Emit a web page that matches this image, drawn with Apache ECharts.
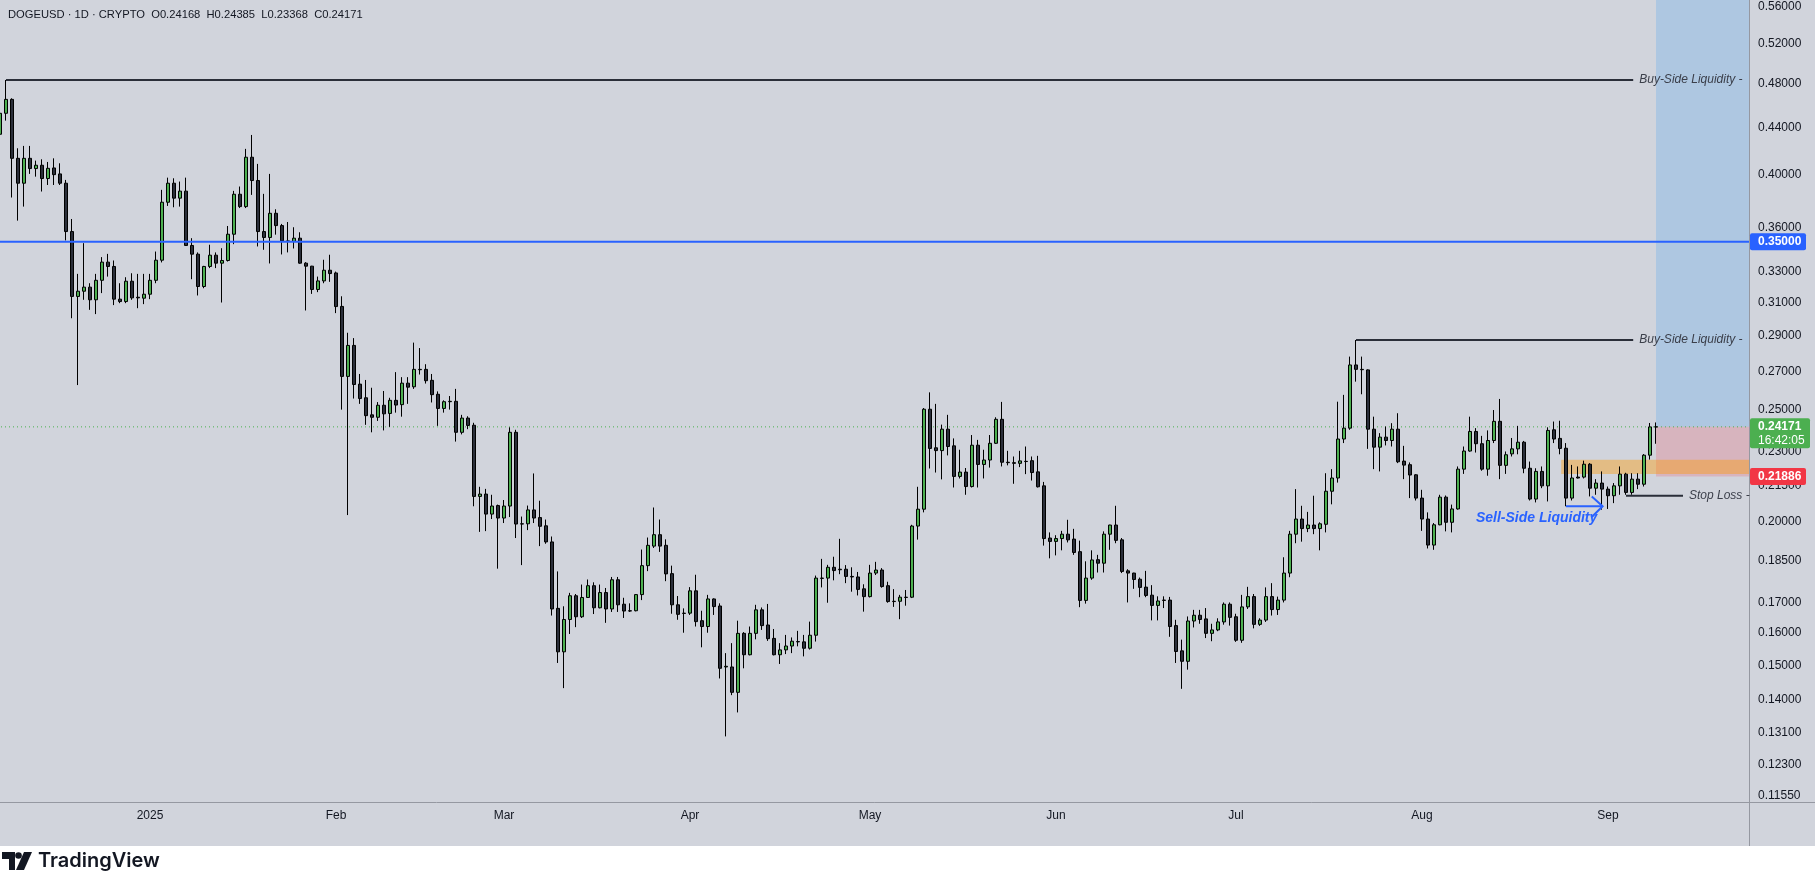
<!DOCTYPE html>
<html>
<head>
<meta charset="utf-8">
<title>DOGEUSD 1D</title>
<style>
  html, body { margin: 0; padding: 0; background: #ffffff; }
  #chart { width: 1815px; height: 890px; }
</style>
<script src="https://cdn.jsdelivr.net/npm/echarts@6.0.0/dist/echarts.min.js"></script>
</head>
<body>
<div id="chart"></div>
<script>
// ---------------- data (prices) ----------------
// each row: [open, high, low, close]
const dec2024 = [ // Dec 7 .. Dec 31, 2024
  [0.4341,0.4558,0.4321,0.4527],[0.4527,0.4839,0.4461,0.4655],[0.4655,0.4665,0.3825,0.4137],
  [0.4137,0.4221,0.3652,0.3936],[0.3936,0.4241,0.3756,0.4137],[0.4137,0.4241,0.4010,0.4053],
  [0.4053,0.4118,0.3988,0.4080],[0.4080,0.4129,0.3871,0.3973],[0.3973,0.4107,0.3922,0.4055],
  [0.4058,0.4137,0.3922,0.4004],[0.4010,0.4096,0.3922,0.3936],[0.3936,0.3962,0.3510,0.3573],
  [0.3573,0.3664,0.3004,0.3138],[0.3138,0.3283,0.2628,0.3171],[0.3171,0.3491,0.3117,0.3197],
  [0.3197,0.3222,0.3055,0.3117],[0.3117,0.3283,0.3029,0.3241],[0.3241,0.3395,0.3159,0.3361],
  [0.3361,0.3417,0.3265,0.3332],[0.3332,0.3372,0.3084,0.3121],[0.3121,0.3222,0.3096,0.3106],
  [0.3106,0.3261,0.3096,0.3235],[0.3235,0.3287,0.3117,0.3129],[0.3133,0.3283,0.3065,0.3129],
  [0.3127,0.3283,0.3090,0.3152]
];
const jan2025 = [
  [0.3152,0.3283,0.3121,0.3241],[0.3241,0.3433,0.3222,0.3374],[0.3374,0.3884,0.3359,0.3789],
  [0.3789,0.3980,0.3761,0.3936],[0.3936,0.3975,0.3751,0.3820],[0.3820,0.3949,0.3756,0.3874],
  [0.3874,0.3980,0.3473,0.3475],[0.3475,0.3526,0.3248,0.3415],[0.3415,0.3427,0.3144,0.3201],
  [0.3201,0.3336,0.3190,0.3332],[0.3332,0.3480,0.3321,0.3408],[0.3408,0.3427,0.3321,0.3354],
  [0.3354,0.3456,0.3100,0.3372],[0.3372,0.3613,0.3365,0.3554],[0.3554,0.3876,0.3484,0.3850],
  [0.3850,0.3910,0.3745,0.3756],[0.3756,0.4216,0.3745,0.4146],[0.4146,0.4335,0.3845,0.3957],
  [0.3957,0.4091,0.3468,0.3573],[0.3573,0.3853,0.3445,0.3531],[0.3531,0.4010,0.3352,0.3706],
  [0.3706,0.3736,0.3551,0.3616],[0.3616,0.3628,0.3413,0.3507],[0.3507,0.3642,0.3427,0.3503],
  [0.3503,0.3604,0.3454,0.3526],[0.3526,0.3568,0.3350,0.3354],[0.3354,0.3361,0.3051,0.3334],
  [0.3334,0.3336,0.3154,0.3182],[0.3182,0.3265,0.3165,0.3237],[0.3237,0.3377,0.3222,0.3307],
  [0.3307,0.3411,0.3231,0.3285]
];
const feb2025 = [
  [0.3289,0.3298,0.3035,0.3075],[0.3076,0.3139,0.2502,0.2674],[0.2674,0.2918,0.2026,0.2845],
  [0.2845,0.2887,0.2558,0.2631],[0.2633,0.2687,0.2531,0.2558],[0.2562,0.2655,0.2427,0.2472],
  [0.2476,0.2614,0.2391,0.2464],[0.2464,0.2540,0.2446,0.2524],[0.2524,0.2597,0.2400,0.2481],
  [0.2483,0.2562,0.2417,0.2549],[0.2549,0.2697,0.2487,0.2525],[0.2527,0.2670,0.2467,0.2638],
  [0.2638,0.2670,0.2531,0.2617],[0.2619,0.2861,0.2608,0.2712],[0.2712,0.2830,0.2684,0.2710],
  [0.2712,0.2740,0.2636,0.2651],[0.2653,0.2687,0.2538,0.2578],[0.2580,0.2595,0.2422,0.2508],
  [0.2508,0.2549,0.2487,0.2542],[0.2542,0.2571,0.2502,0.2544],[0.2544,0.2608,0.2347,0.2391],
  [0.2391,0.2476,0.2381,0.2460],[0.2460,0.2469,0.2406,0.2424],[0.2425,0.2437,0.2062,0.2103],
  [0.2103,0.2144,0.1959,0.2113],[0.2113,0.2135,0.1962,0.2030],[0.2030,0.2110,0.2010,0.2063],
  [0.2065,0.2069,0.1820,0.2014]
];
const mar2025 = [
  [0.2014,0.2088,0.1994,0.2063],[0.2063,0.2415,0.2018,0.2391],[0.2391,0.2403,0.1935,0.1990],
  [0.1991,0.2020,0.1833,0.1990],[0.1991,0.2065,0.1966,0.2047],[0.2047,0.2202,0.1994,0.2014],
  [0.2016,0.2085,0.1904,0.1981],[0.1983,0.2008,0.1913,0.1920],[0.1920,0.1941,0.1657,0.1679],
  [0.1681,0.1810,0.1507,0.1541],[0.1541,0.1688,0.1433,0.1644],[0.1644,0.1734,0.1597,0.1724],
  [0.1724,0.1730,0.1619,0.1653],[0.1653,0.1763,0.1649,0.1718],[0.1718,0.1781,0.1717,0.1759],
  [0.1759,0.1771,0.1662,0.1683],[0.1683,0.1763,0.1681,0.1735],[0.1735,0.1751,0.1633,0.1679],
  [0.1679,0.1790,0.1669,0.1780],[0.1780,0.1790,0.1669,0.1693],[0.1695,0.1717,0.1649,0.1672],
  [0.1673,0.1698,0.1669,0.1672],[0.1673,0.1730,0.1671,0.1728],[0.1728,0.1891,0.1709,0.1831],
  [0.1831,0.1937,0.1811,0.1907],[0.1904,0.2057,0.1897,0.1948],[0.1948,0.2008,0.1882,0.1904],
  [0.1907,0.1930,0.1775,0.1801],[0.1802,0.1831,0.1663,0.1693],[0.1693,0.1723,0.1643,0.1661],
  [0.1665,0.1681,0.1601,0.1664]
];
const apr2025 = [
  [0.1665,0.1754,0.1659,0.1741],[0.1741,0.1798,0.1621,0.1637],[0.1640,0.1673,0.1555,0.1621],
  [0.1621,0.1727,0.1601,0.1713],[0.1713,0.1715,0.1659,0.1687],[0.1689,0.1698,0.1461,0.1491],
  [0.1495,0.1537,0.1301,0.1497],[0.1495,0.1568,0.1413,0.1421],[0.1421,0.1640,0.1365,0.1599],
  [0.1599,0.1603,0.1491,0.1532],[0.1532,0.1621,0.1530,0.1599],[0.1599,0.1693,0.1580,0.1676],
  [0.1676,0.1684,0.1610,0.1624],[0.1626,0.1696,0.1575,0.1582],[0.1583,0.1613,0.1530,0.1532],
  [0.1532,0.1568,0.1504,0.1547],[0.1547,0.1594,0.1534,0.1559],[0.1559,0.1586,0.1537,0.1574],
  [0.1573,0.1607,0.1558,0.1572],[0.1572,0.1594,0.1527,0.1552],[0.1552,0.1637,0.1548,0.1593],
  [0.1593,0.1795,0.1573,0.1786],[0.1786,0.1856,0.1753,0.1785],[0.1786,0.1834,0.1700,0.1825],
  [0.1825,0.1864,0.1778,0.1813],[0.1818,0.1932,0.1800,0.1816],[0.1818,0.1833,0.1768,0.1792],
  [0.1792,0.1825,0.1738,0.1790],[0.1790,0.1808,0.1725,0.1746],[0.1748,0.1764,0.1670,0.1721]
];
const may2025 = [
  [0.1721,0.1834,0.1718,0.1804],[0.1804,0.1845,0.1797,0.1815],[0.1815,0.1822,0.1752,0.1756],
  [0.1759,0.1773,0.1700,0.1704],[0.1705,0.1747,0.1686,0.1704],[0.1705,0.1727,0.1645,0.1719],
  [0.1719,0.1744,0.1690,0.1718],[0.1719,0.1987,0.1716,0.1982],[0.1982,0.2144,0.1929,0.2050],
  [0.2050,0.2510,0.2037,0.2504],[0.2504,0.2590,0.2224,0.2315],[0.2318,0.2531,0.2206,0.2305],
  [0.2305,0.2428,0.2176,0.2406],[0.2406,0.2476,0.2283,0.2324],[0.2327,0.2362,0.2141,0.2189],
  [0.2189,0.2309,0.2180,0.2208],[0.2208,0.2226,0.2110,0.2145],[0.2145,0.2378,0.2141,0.2330],
  [0.2330,0.2355,0.2141,0.2242],[0.2242,0.2309,0.2180,0.2262],[0.2262,0.2378,0.2228,0.2339],
  [0.2339,0.2464,0.2336,0.2454],[0.2454,0.2541,0.2233,0.2252],[0.2252,0.2304,0.2238,0.2250],
  [0.2250,0.2278,0.2157,0.2247],[0.2247,0.2304,0.2230,0.2258],[0.2256,0.2324,0.2199,0.2255],
  [0.2259,0.2278,0.2171,0.2206],[0.2209,0.2281,0.2141,0.2144],[0.2148,0.2165,0.1906,0.1933],
  [0.1935,0.1957,0.1858,0.1922]
];
const jun2025 = [
  [0.1922,0.1946,0.1869,0.1933],[0.1933,0.1963,0.1888,0.1950],[0.1950,0.2007,0.1918,0.1928],
  [0.1931,0.1971,0.1871,0.1880],[0.1883,0.1925,0.1685,0.1708],[0.1708,0.1847,0.1697,0.1786],
  [0.1786,0.1888,0.1780,0.1852],[0.1853,0.1871,0.1806,0.1840],[0.1840,0.1961,0.1806,0.1950],
  [0.1950,0.1987,0.1890,0.1986],[0.1986,0.2064,0.1915,0.1926],[0.1928,0.1935,0.1804,0.1810],
  [0.1812,0.1818,0.1701,0.1804],[0.1804,0.1805,0.1748,0.1781],[0.1782,0.1788,0.1719,0.1753],
  [0.1754,0.1812,0.1719,0.1725],[0.1726,0.1761,0.1641,0.1691],[0.1691,0.1722,0.1641,0.1706],
  [0.1709,0.1722,0.1682,0.1708],[0.1709,0.1720,0.1588,0.1621],[0.1624,0.1643,0.1507,0.1542],
  [0.1544,0.1579,0.1431,0.1512],[0.1512,0.1654,0.1487,0.1639],[0.1639,0.1676,0.1618,0.1658],
  [0.1658,0.1676,0.1630,0.1644],[0.1646,0.1682,0.1584,0.1599],[0.1599,0.1630,0.1574,0.1610],
  [0.1610,0.1648,0.1606,0.1636],[0.1636,0.1701,0.1627,0.1695],[0.1695,0.1701,0.1624,0.1651]
];
const jul2025 = [
  [0.1653,0.1663,0.1572,0.1577],[0.1577,0.1727,0.1569,0.1686],[0.1686,0.1755,0.1679,0.1721],
  [0.1721,0.1730,0.1615,0.1628],[0.1628,0.1648,0.1623,0.1642],[0.1642,0.1753,0.1636,0.1721],
  [0.1721,0.1768,0.1657,0.1677],[0.1677,0.1721,0.1659,0.1709],[0.1709,0.1862,0.1701,0.1804],
  [0.1804,0.1963,0.1789,0.1950],[0.1950,0.2134,0.1915,0.2010],[0.2010,0.2064,0.1921,0.1972],
  [0.1972,0.2039,0.1958,0.1986],[0.1986,0.2106,0.1950,0.1972],[0.1972,0.1997,0.1888,0.1991],
  [0.1989,0.2203,0.1957,0.2125],[0.2125,0.2221,0.2070,0.2182],[0.2182,0.2542,0.2162,0.2359],
  [0.2359,0.2577,0.2340,0.2411],[0.2411,0.2782,0.2403,0.2736],[0.2736,0.2876,0.2646,0.2712],
  [0.2712,0.2782,0.2580,0.2710],[0.2709,0.2712,0.2313,0.2406],[0.2406,0.2467,0.2221,0.2321],
  [0.2321,0.2387,0.2211,0.2368],[0.2368,0.2419,0.2329,0.2352],[0.2352,0.2435,0.2324,0.2406],
  [0.2406,0.2484,0.2248,0.2254],[0.2257,0.2327,0.2177,0.2239],[0.2241,0.2251,0.2096,0.2195],
  [0.2196,0.2199,0.2086,0.2096]
];
const aug2025 = [
  [0.2096,0.2131,0.1963,0.2010],[0.2010,0.2037,0.1895,0.1908],[0.1908,0.1994,0.1890,0.1987],
  [0.1987,0.2110,0.1985,0.2100],[0.2100,0.2107,0.1961,0.1997],[0.1997,0.2069,0.1957,0.2051],
  [0.2051,0.2233,0.2048,0.2221],[0.2221,0.2324,0.2200,0.2303],[0.2303,0.2467,0.2300,0.2395],
  [0.2395,0.2411,0.2296,0.2337],[0.2337,0.2374,0.2214,0.2221],[0.2221,0.2400,0.2192,0.2352],
  [0.2352,0.2500,0.2340,0.2444],[0.2444,0.2556,0.2177,0.2238],[0.2238,0.2301,0.2200,0.2286],
  [0.2290,0.2364,0.2278,0.2313],[0.2313,0.2422,0.2288,0.2344],[0.2344,0.2350,0.2203,0.2225],
  [0.2225,0.2255,0.2086,0.2092],[0.2092,0.2225,0.2078,0.2211],[0.2211,0.2233,0.2138,0.2148],
  [0.2148,0.2415,0.2082,0.2400],[0.2403,0.2443,0.2340,0.2359],[0.2362,0.2447,0.2288,0.2315],
  [0.2316,0.2340,0.2062,0.2096],[0.2096,0.2240,0.2086,0.2182],[0.2186,0.2233,0.2180,0.2182],
  [0.2186,0.2259,0.2180,0.2243],[0.2243,0.2248,0.2103,0.2138],[0.2138,0.2177,0.2110,0.2160],
  [0.2160,0.2211,0.2048,0.2134]
];
const sep2025 = [
  [0.2134,0.2145,0.2051,0.2106],[0.2106,0.2160,0.2075,0.2148],[0.2148,0.2233,0.2110,0.2199],
  [0.2199,0.2205,0.2110,0.2120],[0.2120,0.2203,0.2110,0.2177],[0.2177,0.2203,0.2134,0.2155],
  [0.2155,0.2289,0.2145,0.2284],[0.2284,0.2436,0.2264,0.2417],[0.24168,0.24385,0.23368,0.24171]
];

// price axis (log scale) labels and range
const priceTicks = [0.56,0.52,0.48,0.44,0.40,0.36,0.33,0.31,0.29,0.27,0.25,0.23,0.215,0.20,0.185,0.17,0.16,0.15,0.14,0.131,0.123,0.1155];
const priceMin = 0.1141;
const priceMax = 0.5679;
const monthNames = ['Jan','Feb','Mar','Apr','May','Jun','Jul','Aug','Sep','Oct','Nov','Dec'];

// time slots: first slot is 2024-12-07; days are counted from 2025-01-01
const slotCount = 292;
const leftEdgeDay = -25.5, rightEdgeDay = 266.5;

// drawings (price, day)
const keyLevel = 0.35;
const lastPrice = 0.24171;
const lastTime = '16:42:05';
const stopPrice = 0.21886;
const buySideTop = {price: 0.4839, from: -24, to: 247.2};
const buySideMid = {price: 0.2876, from: 201, to: 247.2};
const stopLoss = {price: 0.2106, from: 246, to: 255.5};
const sellSide = {price: 0.2062, from: 236, to: 242.1, chevronTop: 0.2103, chevronBottom: 0.2018, chevronBack: 240.3, textDay: 231.1, textPrice: 0.2014};
const orderBlock = {top: 0.2263, bottom: 0.2200, from: 235.2};
const positionFrom = 251;
const header = 'DOGEUSD \u00b7 1D \u00b7 CRYPTO  O0.24168  H0.24385  L0.23368  C0.24171';

// ---------------- build ----------------
const L = Math.log;
const categories = [];
for (let i = 0; i < slotCount; i++) {
  const dt = new Date(Date.UTC(2024, 11, 7 + i));
  categories.push(dt.toISOString().slice(0, 10));
}
const candles = [].concat(dec2024, jan2025, feb2025, mar2025, apr2025, may2025, jun2025, jul2025, aug2025, sep2025);
const candleData = categories.map((c, i) => {
  const r = candles[i];
  if (!r) return '-';
  return [L(r[0]), L(r[3]), L(r[2]), L(r[1])];
});

const FONT = '"Liberation Sans", Arial, sans-serif';
const AXIS_COLOR = '#9598a1';

function hLine(name, lv, color, width, type, label, z) {
  const s = {
    type: 'line', name: name, xAxisIndex: 1, yAxisIndex: 0,
    data: [[lv.from, L(lv.price)], [lv.to, L(lv.price)]],
    symbol: 'none', silent: true, z: z || 3, clip: false,
    lineStyle: {color: color, width: width, type: type || 'solid'},
    emphasis: {disabled: true}
  };
  if (label) {
    s.endLabel = {show: true, formatter: label, distance: 6, color: '#3b3f4a',
      fontSize: 12, fontStyle: 'italic', fontFamily: FONT};
  }
  return s;
}

const chart = echarts.init(document.getElementById('chart'), null, {renderer: 'canvas'});

const option = {
  animation: false,
  backgroundColor: '#d1d4dc',
  textStyle: {fontFamily: FONT},
  grid: {left: -3, top: 0, width: 1752, height: 802, containLabel: false, outerBoundsMode: 'none'},
  xAxis: [
    {
      type: 'category', data: categories, boundaryGap: true,
      axisLine: {show: true, onZero: false, lineStyle: {color: AXIS_COLOR, width: 1}},
      axisTick: {show: false},
      splitLine: {show: false},
      axisLabel: {
        interval: (idx, val) => val.slice(8, 10) === '01',
        formatter: (val) => {
          const m = +val.slice(5, 7);
          return m === 1 ? val.slice(0, 4) : monthNames[m - 1];
        },
        color: '#131722', fontSize: 12, margin: 8, fontFamily: FONT
      }
    },
    {type: 'value', min: leftEdgeDay, max: rightEdgeDay, show: false, axisLine: {onZero: false}}
  ],
  yAxis: {
    type: 'value', position: 'right', min: L(priceMin), max: L(priceMax), scale: true,
    axisLine: {show: true, onZero: false, lineStyle: {color: AXIS_COLOR, width: 1}},
    axisTick: {show: false},
    splitLine: {show: false},
    axisLabel: {
      customValues: priceTicks.map(L),
      formatter: (v) => Math.exp(v).toFixed(5),
      color: '#131722', fontSize: 12, margin: 9, fontFamily: FONT
    }
  },
  series: [
    // boxes behind candles
    {
      type: 'custom', name: 'zones', xAxisIndex: 1, yAxisIndex: 0, z: 1, silent: true, clip: false,
      data: [[positionFrom, L(lastPrice)]],
      renderItem: (params, api) => {
        const P = (d, p) => api.coord([d, L(p)]);
        const box = (d1, p1, d2, p2, fill) => {
          const a = P(d1, p1), b = P(d2, p2);
          return {type: 'rect', shape: {x: Math.min(a[0], b[0]), y: Math.min(a[1], b[1]),
            width: Math.abs(b[0] - a[0]), height: Math.abs(b[1] - a[1])}, style: {fill: fill}};
        };
        return {type: 'group', children: [
          box(positionFrom, priceMax, rightEdgeDay, lastPrice, 'rgba(33,150,243,0.2)'),
          box(positionFrom, lastPrice, rightEdgeDay, stopPrice, 'rgba(242,54,69,0.2)'),
          box(orderBlock.from, orderBlock.top, rightEdgeDay, orderBlock.bottom, 'rgba(255,152,0,0.4)')
        ]};
      }
    },
    hLine('price line', {price: lastPrice, from: leftEdgeDay, to: rightEdgeDay}, '#4caf50', 1, [1, 3], null, 1),
    {
      type: 'candlestick', name: 'DOGEUSD', xAxisIndex: 0, yAxisIndex: 0, z: 2,
      data: candleData, barWidth: 4, silent: true,
      itemStyle: {color: '#4caf50', color0: '#2a2e39', borderColor: '#000000', borderColor0: '#000000',
        borderColorDoji: '#000000', borderWidth: 1}
    },
    hLine('0.35', {price: keyLevel, from: leftEdgeDay, to: rightEdgeDay}, '#2962ff', 2),
    hLine('buy side top', buySideTop, '#2a2e39', 2, 'solid', 'Buy-Side Liquidity -'),
    hLine('buy side mid', buySideMid, '#2a2e39', 2, 'solid', 'Buy-Side Liquidity -'),
    hLine('stop loss', stopLoss, '#2a2e39', 2, 'solid', 'Stop Loss -'),
    hLine('sell side', sellSide, '#2962ff', 2),
    // arrow head, label, price badges
    {
      type: 'custom', name: 'labels', xAxisIndex: 1, yAxisIndex: 0, z: 10, silent: true, clip: false,
      data: [[positionFrom, L(lastPrice)]],
      renderItem: (params, api) => {
        const P = (d, p) => api.coord([d, L(p)]);
        const axisX = P(rightEdgeDay, lastPrice)[0];
        const badge = (price, text, fill, w, extra) => {
          const y = P(0, price)[1];
          const h = extra ? 30 : 17;
          const els = [
            {type: 'rect', shape: {x: axisX + 1, y: y - 8.5, width: w, height: h, r: 2}, style: {fill: fill}},
            {type: 'text', x: axisX + 9, y: y, style: {text: text, fill: '#ffffff', font: 'bold 12px ' + FONT,
              align: 'left', verticalAlign: 'middle'}}
          ];
          if (extra) {
            els.push({type: 'text', x: axisX + 9, y: y + 14, style: {text: extra, fill: '#ffffff',
              font: '12px ' + FONT, align: 'left', verticalAlign: 'middle'}});
          }
          return els;
        };
        const tip = P(sellSide.to, sellSide.price);
        const cTop = P(sellSide.chevronBack, sellSide.chevronTop);
        const cBot = P(sellSide.chevronBack, sellSide.chevronBottom);
        const tPos = P(sellSide.textDay, sellSide.textPrice);
        return {type: 'group', children: [
          {type: 'polyline', shape: {points: [cTop, tip, cBot]},
            style: {stroke: '#2962ff', lineWidth: 2, fill: null}},
          {type: 'text', x: tPos[0], y: tPos[1], style: {text: 'Sell-Side Liquidity', fill: '#2962ff',
            font: 'italic bold 14px ' + FONT, align: 'center', verticalAlign: 'middle'}},
          ...badge(keyLevel, '0.35000', '#2962ff', 56),
          ...badge(lastPrice, '0.24171', '#4caf50', 60, lastTime),
          ...badge(stopPrice, '0.21886', '#f23645', 56)
        ]};
      }
    }
  ],
  graphic: [
    {type: 'rect', silent: true, z: 0, shape: {x: 0, y: 846, width: 1815, height: 44}, style: {fill: '#ffffff'}},
    {type: 'line', silent: true, shape: {x1: 1749.5, y1: 802, x2: 1749.5, y2: 846}, style: {stroke: AXIS_COLOR, lineWidth: 1}},
    {type: 'line', silent: true, shape: {x1: 1749, y1: 802.5, x2: 1815, y2: 802.5}, style: {stroke: AXIS_COLOR, lineWidth: 1}},
    {type: 'text', silent: true, x: 8, y: 15, style: {text: header, fill: '#131722', font: '11.2px ' + FONT,
      align: 'left', verticalAlign: 'middle'}},
    {type: 'group', silent: true, x: 2, y: 852, children: [
      {type: 'polygon', shape: {points: [[0, 0], [13, 0], [13, 18], [7, 18], [7, 7], [0, 7]]}, style: {fill: '#131722'}},
      {type: 'circle', shape: {cx: 16.5, cy: 3.5, r: 3.3}, style: {fill: '#131722'}},
      {type: 'polygon', shape: {points: [[22, 0], [30, 0], [22, 18], [14, 18]]}, style: {fill: '#131722'}},
      {type: 'text', x: 36, y: 9, style: {text: 'TradingView', fill: '#131722', font: '600 20px Inter, ' + FONT,
        align: 'left', verticalAlign: 'middle'}}
    ]}
  ]
};
chart.setOption(option);
</script>
</body>
</html>
